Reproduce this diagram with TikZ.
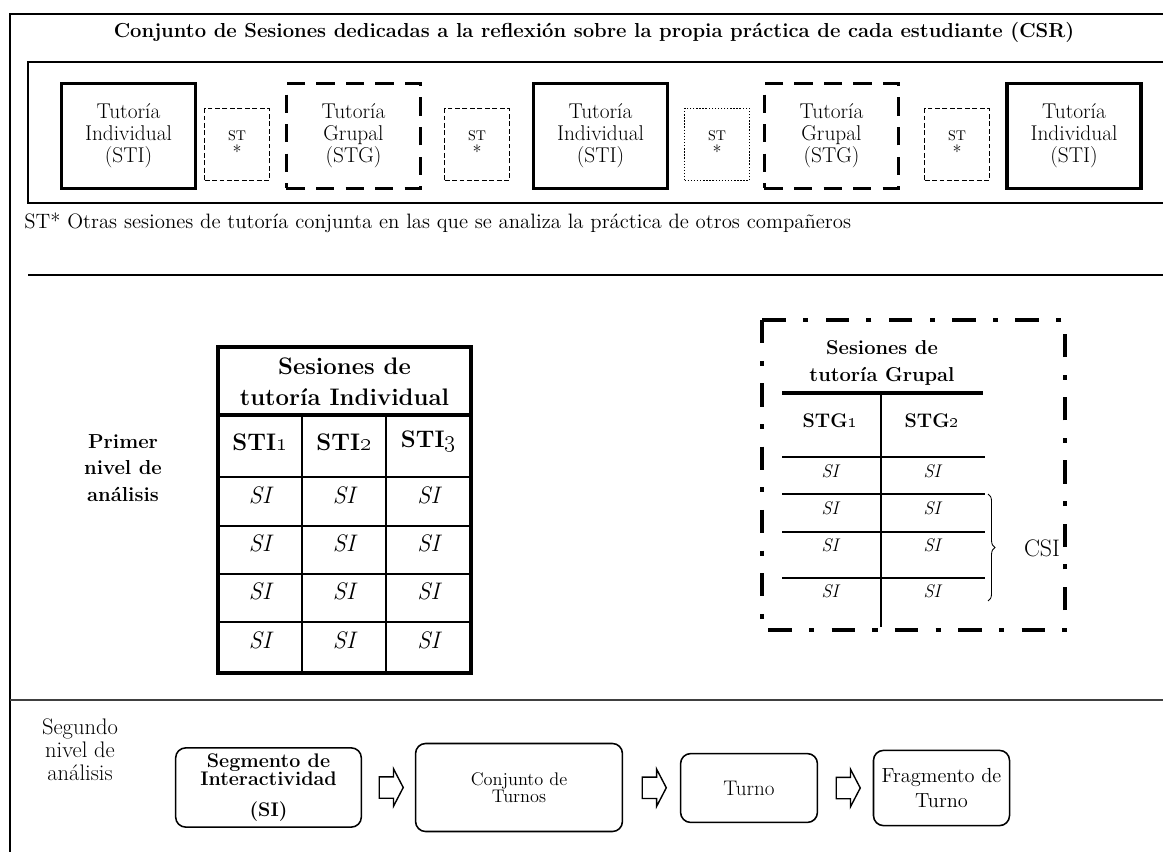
\documentclass[tikz,border=0pt]{standalone}
\usepackage{tikz}
\usetikzlibrary{positioning,calc,shapes.arrows,decorations.pathreplacing}
\newcommand{\fsz}[2]{\fontsize{#1}{#2}\selectfont}
\newcommand{\osn}[1]{\oldstylenums{#1}}

\begin{document}
\begin{tikzpicture}[x=0.025cm, y=-0.025cm,
  tutind/.style={draw, line width=2.4pt, minimum width=3.35cm, minimum height=2.62cm, align=center, inner sep=0pt, font=\fsz{15.2}{15.6}},
  tutgrp/.style={tutind, line width=2.3pt, dash pattern=on 13pt off 8pt},
  stbox/.style={draw, line width=1pt, dash pattern=on 3.5pt off 1.8pt, minimum width=1.62cm, minimum height=1.8cm, align=center, inner sep=0pt, font=\fsz{10}{12.5}},
  stdot/.style={stbox, dash pattern=on 1pt off 1.2pt},
  paso/.style={draw, line width=1.1pt, rounded corners=0.25cm, align=center, inner sep=0pt},
  flecha/.style={draw, line width=1pt, single arrow, single arrow head extend=0.2cm, single arrow tip angle=125, minimum height=0.6cm, inner xsep=0pt, inner ysep=0.25cm},
  celda/.style={font=\fsz{17}{20}\itshape, inner sep=0pt},
  celdag/.style={font=\fsz{13}{15}\itshape, inner sep=0pt}]
  \useasboundingbox (0,0) rectangle (1163,852);
  \draw[line width=1.8pt] (1163,14) -- (10,14) -- (10,852);
  \node[font=\bfseries\fsz{14.4}{16}] (titulo) at (594,32) {Conjunto de Sesiones dedicadas a la reflexión sobre la propia práctica de cada estudiante (CSR)};
  \draw[line width=0.8pt] (1163,62) -- (28,62) -- (28,203) -- (1163,203);
  \node[tutind] (sti1) at (128.5,136) {Tutoría\\Individual\\(STI)};
  \node[stbox] (st1) at (237,144.5) {ST\\{\fsz{13}{13}*}};
  \node[tutgrp] (stg1) at (353.5,136) {Tutoría\\Grupal\\(STG)};
  \node[stbox] (st2) at (477,144.5) {ST\\{\fsz{13}{13}*}};
  \node[tutind] (sti2) at (600.5,136) {Tutoría\\Individual\\(STI)};
  \node[stdot] (st3) at (717,144.5) {ST\\{\fsz{13}{13}*}};
  \node[tutgrp] (stg2) at (831.5,136) {Tutoría\\Grupal\\(STG)};
  \node[stbox] (st4) at (957,144.5) {ST\\{\fsz{13}{13}*}};
  \node[tutind] (sti3) at (1074,136) {Tutoría\\Individual\\(STI)};
  \node[anchor=west, font=\fsz{14.8}{16}, inner sep=0pt] (nota) at (24,223) {ST* Otras sesiones de tutoría conjunta en las que se analiza la práctica de otros compañeros};
  \draw[line width=0.8pt] (28,275) -- (1163,275);
  \draw[line width=1.1pt, black!75] (10,700) -- (1163,700);

  \node[font=\bfseries\fsz{14.4}{18.8}, align=center] (primer) at (123,468) {Primer\\nivel de\\análisis};
  \draw[line width=2.8pt] (218,347) rectangle (471,673);
  \draw[line width=2.8pt] (218,415) -- (471,415);
  \foreach \y in {477,526,574,622} \draw[line width=1.4pt] (218,\y) -- (471,\y);
  \foreach \x in {302,386} \draw[line width=1.4pt] (\x,415) -- (\x,673);
  \node[font=\bfseries\fsz{17}{22}, align=center] (cabind) at (344.5,382) {Sesiones de\\tutoría Individual};
  \node[font=\bfseries\fsz{17}{20}] (sti1h) at (260,442) {STI\osn{1}};
  \node[font=\bfseries\fsz{17}{20}] (sti2h) at (344,442) {STI\osn{2}};
  \node[font=\bfseries\fsz{17}{20}] (sti3h) at (428.5,442) {STI\osn{3}};
  \foreach \y [count=\r] in {495,543,591,640}
    \foreach \x [count=\c] in {260,344,428.5}
      \node[celda] (si\r\c) at (\x,\y) {SI};

  \draw[line width=2.8pt, dash pattern=on 16.6pt off 12.4pt on 3.6pt off 12.4pt] (762,320) rectangle (1065,630);
  \node[font=\bfseries\fsz{14.3}{19}, align=center] (cabgrp) at (882,363) {Sesiones de\\tutoría Grupal};
  \draw[line width=2.8pt] (782,393) -- (983,393);
  \draw[line width=1.4pt] (881,393) -- (881,627);
  \foreach \y in {457,494,532,578} \draw[line width=1pt] (782,\y) -- (985,\y);
  \node[font=\bfseries\fsz{14}{16}] (stg1h) at (830,421) {STG\osn{1}};
  \node[font=\bfseries\fsz{14}{16}] (stg2h) at (932,421) {STG\osn{2}};
  \foreach \y [count=\r] in {471,508,545,591} {
    \node[celdag] (sig\r a) at (830,\y) {SI};
    \node[celdag] (sig\r b) at (932,\y) {SI};
  }
  \draw[decorate, decoration={brace, amplitude=5pt}, line width=0.6pt] (988,494) -- (988,601);
  \node[font=\fsz{17}{20}] (csi) at (1042,548) {CSI};

  \node[font=\fsz{16}{16.5}, align=center] (segundo) at (80,750) {Segundo\\nivel de\\análisis};
  \node[paso, minimum width=4.64cm, minimum height=1.98cm, font=\bfseries\fsz{14}{12.8}] (seg) at (268.5,787.5) {Segmento de\\Interactividad\\[9pt](SI)};
  \node[paso, minimum width=5.17cm, minimum height=2.2cm, font=\fsz{13}{12.5}] (conj) at (519,787.5) {Conjunto de\\Turnos};
  \node[paso, minimum width=3.42cm, minimum height=1.72cm, font=\fsz{15}{16}] (turno) at (749,788) {Turno};
  \node[paso, minimum width=3.4cm, minimum height=1.88cm, font=\fsz{14.5}{17.8}] (frag) at (941.5,788) {Fragmento de\\Turno};
  \node[flecha] (f1) at ($(seg.east)!0.5!(conj.west)$) {};
  \node[flecha] (f2) at ($(conj.east)!0.5!(turno.west)$) {};
  \node[flecha] (f3) at ($(turno.east)!0.5!(frag.west)$) {};
\end{tikzpicture}
\end{document}
